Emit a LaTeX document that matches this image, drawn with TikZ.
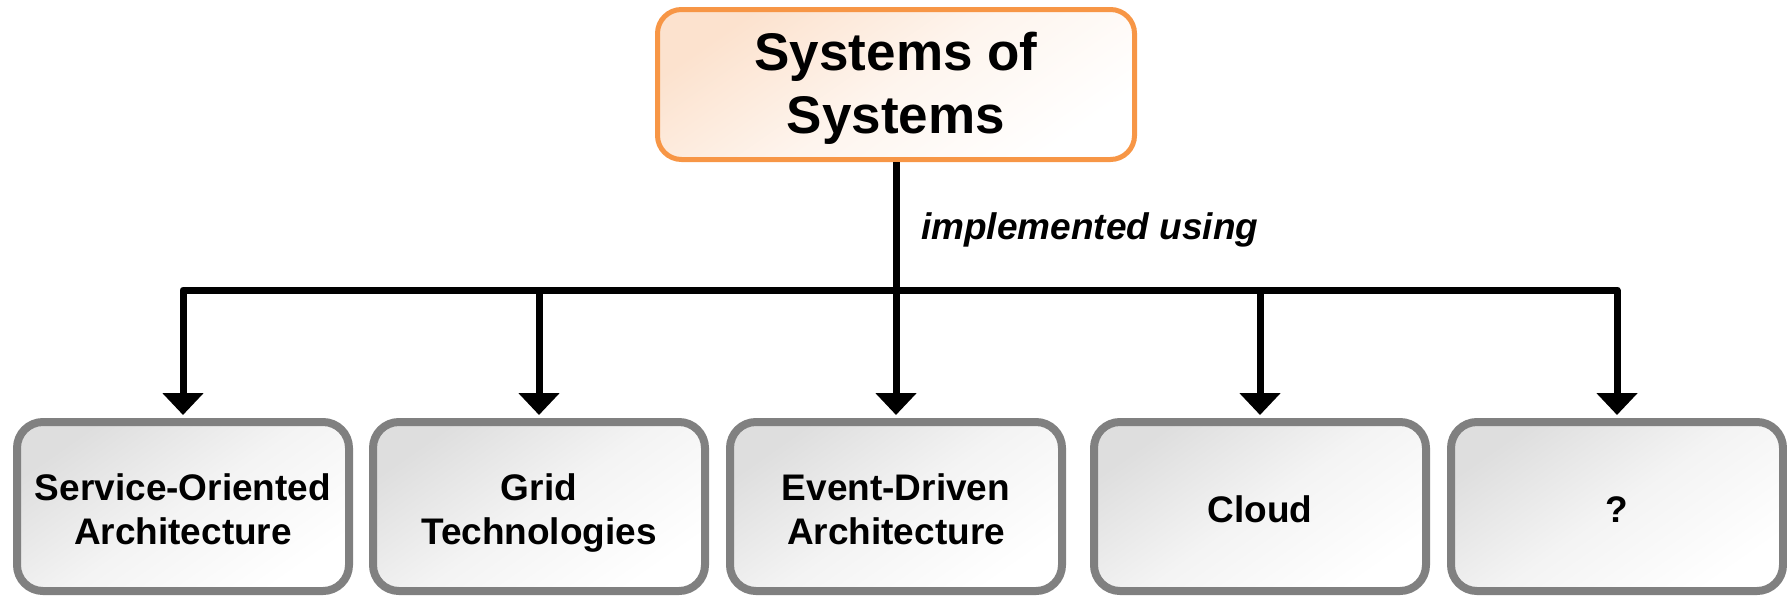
\documentclass[tikz,border=0pt]{standalone}
\usepackage{fontspec}
\setmainfont{Liberation Sans}
\usetikzlibrary{arrows.meta}
\definecolor{orangeB}{HTML}{F79646}
\definecolor{orangeF}{HTML}{FCE2CE}
\definecolor{grayB}{HTML}{808080}
\definecolor{grayF}{HTML}{DEDEDE}
\newcommand{\tophi}{\rule{0pt}{45pt}}
\newcommand{\toplo}{\rule[-11pt]{0pt}{11pt}}
\newcommand{\leafhi}{\rule{0pt}{40pt}}
\newcommand{\leaflo}{\rule[-9pt]{0pt}{9pt}}
\tikzset{
  topbox/.style={draw=orangeB, line width=5pt, rounded corners=24pt,
    top color=orangeF, bottom color=white, middle color=orangeF!35!white, shading angle=35,
    minimum width=477pt, minimum height=150pt, align=center,
    font=\fontsize{53}{63}\selectfont\bfseries, inner sep=0pt},
  leafbox/.style={draw=grayB, line width=8pt, rounded corners=26pt,
    top color=grayF, bottom color=white, middle color=grayF!35!white, shading angle=35,
    minimum width=332pt, minimum height=169pt, align=center,
    font=\fontsize{37}{44}\selectfont\bfseries, inner sep=0pt},
  conn/.style={line width=7pt, line join=round},
  arr/.style={conn, -{Triangle[width=40pt,length=22pt]}, shorten >=3pt},
  lbl/.style={font=\fontsize{37}{44}\selectfont\bfseries\itshape, inner sep=0pt, anchor=west}
}
\begin{document}
\begin{tikzpicture}[x=1pt,y=-1pt]
\useasboundingbox (0,0) rectangle (1787,597);
\node[topbox] (top) at (896,84.5) {\tophi Systems of\\Systems\toplo};
\node[leafbox] (b1) at (183,506.5) {\leafhi Service-Oriented\\Architecture\leaflo};
\node[leafbox] (b2) at (539,506.5) {\leafhi Grid\\Technologies\leaflo};
\node[leafbox] (b3) at (896,506.5) {\leafhi Event-Driven\\Architecture\leaflo};
\node[leafbox] (b4) at (1260,506.5) {\leafhi Cloud\leaflo};
\node[leafbox] (b5) at (1617,506.5) {\leafhi ?\leaflo};
\coordinate (bar) at (896,290);
\draw[conn] (top.south) -- (bar);
\draw[conn] (bar -| b1.north) -- (bar -| b5.north);
\draw[arr] (bar) -| (b1.north);
\draw[arr] (bar) -| (b5.north);
\draw[arr] (bar -| b2.north) -- (b2.north);
\draw[arr] (bar) -- (b3.north);
\draw[arr] (bar -| b4.north) -- (b4.north);
\node[lbl] (impl) at (921,230) {implemented using};
\end{tikzpicture}
\end{document}
